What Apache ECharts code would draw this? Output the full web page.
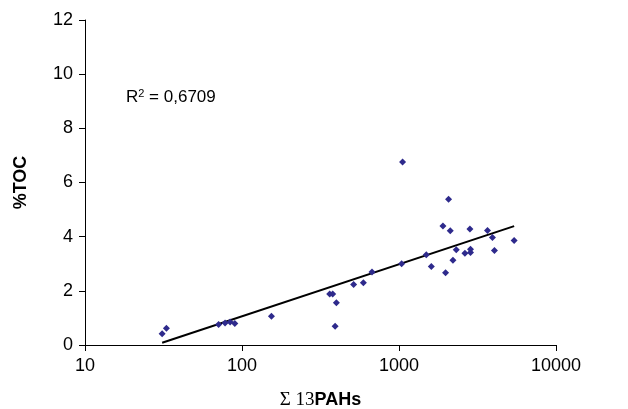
<!DOCTYPE html>
<html>
<head>
<meta charset="utf-8">
<script src="https://cdn.jsdelivr.net/npm/echarts@6/dist/echarts.min.js"></script>
<style>
  html, body { margin: 0; padding: 0; background: #fff; }
  #chart { width: 628px; height: 409px; }
</style>
</head>
<body>
<div id="chart"></div>
<script>
// Σ13 PAHs (x, log scale) vs %TOC (y)
const pahs = [31, 33, 71, 78, 84, 90, 154, 362, 378, 399, 392, 514, 593, 673, 1039, 1054,
  1492, 1606, 1979, 1905, 2068, 2120, 2205, 2315, 2629, 2854, 2854, 2829, 3661, 3938, 4055, 5413];
const toc = [0.42, 0.62, 0.76, 0.81, 0.85, 0.79, 1.06, 1.88, 1.88, 1.56, 0.69, 2.23, 2.30, 2.70, 3.00, 6.76,
  3.33, 2.90, 2.67, 4.39, 5.38, 4.22, 3.13, 3.52, 3.39, 3.54, 3.42, 4.28, 4.23, 3.97, 3.49, 3.86];

// trend line end points
const trendX = [31, 5413];
const trendY = [0.085, 4.39];

const yTicks = [0, 2, 4, 6, 8, 10, 12];

const points = pahs.map((x, i) => [x, toc[i]]);
const trend = trendX.map((x, i) => [x, trendY[i]]);

const chart = echarts.init(document.getElementById("chart"));

chart.setOption({
  animation: false,
  backgroundColor: "#fff",
  textStyle: { fontFamily: "Liberation Sans, Arial, sans-serif" },
  grid: { left: 85, right: 72, top: 20, bottom: 64, containLabel: false, outerBoundsMode: "none" },
  xAxis: {
    type: "log",
    logBase: 10,
    min: 10,
    max: 10000,
    axisLine: { lineStyle: { color: "#000", width: 1 } },
    axisTick: { show: true, length: 6, lineStyle: { color: "#000" } },
    minorTick: { show: false },
    splitLine: { show: false },
    axisLabel: { color: "#000", fontSize: 18, margin: 12, formatter: (v) => String(Math.round(v)) },
    name: "{s|Σ 13}{b|PAHs}",
    nameLocation: "middle",
    nameGap: 46,
    nameTextStyle: {
      rich: {
        s: { fontFamily: "Liberation Serif", fontSize: 19, color: "#000" },
        b: { fontFamily: "Liberation Sans", fontWeight: "bold", fontSize: 18, color: "#000" },
      },
    },
  },
  yAxis: {
    type: "value",
    min: yTicks[0],
    max: yTicks[yTicks.length - 1],
    interval: 2,
    axisLine: { show: true, lineStyle: { color: "#000", width: 1 } },
    axisTick: { show: true, length: 6, lineStyle: { color: "#000" } },
    splitLine: { show: false },
    axisLabel: { color: "#000", fontSize: 18, margin: 12 },
    name: "%TOC",
    nameLocation: "middle",
    nameRotate: 90,
    nameGap: 55,
    nameTextStyle: { color: "#000", fontWeight: "bold", fontSize: 18 },
  },
  graphic: [
    {
      type: "text",
      left: 126,
      top: 88,
      style: {
        text: "{r|R}{sup|2}{r| = 0,6709}",
        rich: {
          r: { fontSize: 17, fill: "#000", fontFamily: "Liberation Sans" },
          sup: { fontSize: 11, fill: "#000", fontFamily: "Liberation Sans", verticalAlign: "top", padding: [0, 0, 8, 0] },
        },
      },
    },
  ],
  series: [
    {
      type: "line",
      data: trend,
      symbol: "none",
      lineStyle: { color: "#000", width: 2 },
      z: 1,
    },
    {
      type: "scatter",
      data: points,
      symbol: "diamond",
      symbolSize: 7,
      itemStyle: { color: "#2e2a8c", opacity: 1 },
      z: 2,
    },
  ],
});
</script>
</body>
</html>
